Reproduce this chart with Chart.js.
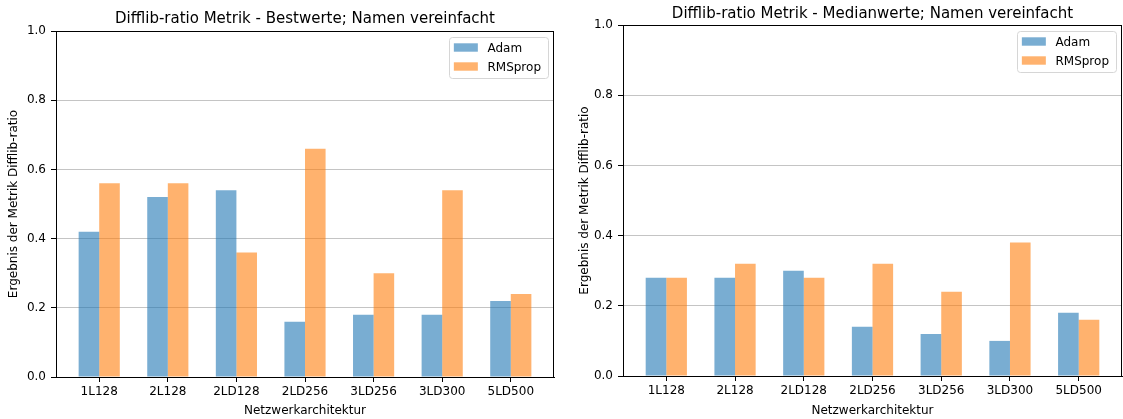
<!DOCTYPE html>
<html>
<head>
<meta charset="utf-8">
<script src="https://cdn.jsdelivr.net/npm/chart.js@4.4.0/dist/chart.umd.min.js"></script>
<style>
  html, body { margin: 0; padding: 0; background: #fff; }
  .box { position: absolute; top: 0; height: 419px; }
</style>
</head>
<body>
<div class="box" style="left:0;width:560px"><canvas id="best"></canvas></div>
<div class="box" style="left:560px;width:563px"><canvas id="median"></canvas></div>
<script>
"use strict";

var architectures = ["1L128", "2L128", "2LD128", "2LD256", "3LD256", "3LD300", "5LD500"];
var bestAdam = [0.42, 0.52, 0.54, 0.16, 0.18, 0.18, 0.22];
var bestRmsprop = [0.56, 0.56, 0.36, 0.66, 0.30, 0.54, 0.24];
var medianAdam = [0.28, 0.28, 0.30, 0.14, 0.12, 0.10, 0.18];
var medianRmsprop = [0.28, 0.32, 0.28, 0.32, 0.24, 0.38, 0.16];
var yTicks = [0.0, 0.2, 0.4, 0.6, 0.8, 1.0];

var FONT = "'DejaVu Sans', sans-serif";
Chart.defaults.font.family = FONT;
Chart.defaults.font.size = 12;
Chart.defaults.color = "#000";

function points(values) {
    return values.map(function (v, i) { return { x: i, y: v }; });
}

// axes frame (top + right spines)
var framePlugin = {
    id: "frame",
    afterDatasetsDraw: function (chart) {
        var a = chart.chartArea, c = chart.ctx;
        c.save();
        c.strokeStyle = "#000";
        c.lineWidth = 1;
        c.strokeRect(Math.round(a.left) + 0.5, Math.round(a.top) + 0.5,
            Math.round(a.right - a.left) - 1, Math.round(a.bottom - a.top));
        c.restore();
    }
};

// matplotlib style legend, upper right inside the axes
var innerLegend = {
    id: "innerLegend",
    afterDraw: function (chart) {
        var a = chart.chartArea, c = chart.ctx;
        var sets = chart.data.datasets;
        c.save();
        c.font = "12px " + FONT;
        var tw = 0;
        sets.forEach(function (d) { tw = Math.max(tw, c.measureText(d.label).width); });
        var w = 5 + 24 + 9.6 + tw + 7, h = 41;
        var x = a.right - 6 - w, y = a.top + 6;
        c.beginPath();
        c.roundRect(Math.round(x) + 0.5, Math.round(y) + 0.5, Math.round(w), h, 3);
        c.fillStyle = "rgba(255,255,255,0.8)";
        c.fill();
        c.strokeStyle = "#d6d6d6";
        c.lineWidth = 1;
        c.stroke();
        sets.forEach(function (d, i) {
            var cy = y + 10.5 + i * 19;
            c.fillStyle = d.backgroundColor;
            c.fillRect(x + 5, cy - 4.2, 24, 8.4);
            c.fillStyle = "#000";
            c.textBaseline = "middle";
            c.fillText(d.label, x + 5 + 24 + 9.6, cy + 1);
        });
        c.restore();
    }
};

function makeChart(id, title, adam, rmsprop, g) {
    return new Chart(document.getElementById(id), {
        type: "bar",
        data: {
            datasets: [
                { label: "Adam", data: points(adam), backgroundColor: "rgba(31,119,180,0.6)" },
                { label: "RMSprop", data: points(rmsprop), backgroundColor: "rgba(255,127,14,0.6)" }
            ]
        },
        options: {
            responsive: true,
            maintainAspectRatio: false,
            animation: false,
            layout: { padding: { left: 0, right: g.right, top: 0, bottom: 0 } },
            datasets: { bar: { categoryPercentage: 0.6, barPercentage: 1.0, borderWidth: 0 } },
            plugins: {
                legend: { display: false },
                tooltip: { enabled: false },
                title: {
                    display: true,
                    fullSize: false,
                    text: title,
                    font: { size: 15, weight: "normal", lineHeight: 1.2 },
                    padding: { top: g.titleTop, bottom: g.titleBottom }
                }
            },
            scales: {
                x: {
                    type: "linear",
                    min: -0.63,
                    max: 6.63,
                    offset: false,
                    afterFit: function (s) { s.height = g.xHeight; },
                    afterBuildTicks: function (s) {
                        s.ticks = architectures.map(function (_, i) { return { value: i }; });
                    },
                    ticks: {
                        padding: 3,
                        autoSkip: false,
                        maxRotation: 0,
                        callback: function (v) { return architectures[v]; }
                    },
                    grid: { offset: false, drawOnChartArea: false, tickLength: 5, color: "#000" },
                    border: { color: "#000", width: 1 },
                    title: { display: true, text: "Netzwerkarchitektur", padding: { top: 0, bottom: 1 } }
                },
                y: {
                    min: 0,
                    max: 1,
                    afterFit: function (s) { s.width = g.yWidth; },
                    afterBuildTicks: function (s) {
                        s.ticks = yTicks.map(function (v) { return { value: v }; });
                    },
                    ticks: {
                        padding: 5,
                        callback: function (v) { return v.toFixed(1); }
                    },
                    grid: { color: "#c4c4c4", tickColor: "#000", tickLength: 5 },
                    border: { color: "#000", width: 1 },
                    title: {
                        display: true,
                        text: "Ergebnis der Metrik Difflib-ratio",
                        padding: { top: g.yTitle - 7.2, bottom: 0 }
                    }
                }
            }
        },
        plugins: [framePlugin, innerLegend]
    });
}

makeChart("best", "Difflib-ratio Metrik - Bestwerte; Namen vereinfacht", bestAdam, bestRmsprop,
    { right: 6, titleTop: 10.6, titleBottom: 2.4, xHeight: 42, yWidth: 56, yTitle: 14 });
makeChart("median", "Difflib-ratio Metrik - Medianwerte; Namen vereinfacht", medianAdam, medianRmsprop,
    { right: 1, titleTop: 5.4, titleBottom: 1.6, xHeight: 43, yWidth: 63, yTitle: 25 });
</script>
</body>
</html>
